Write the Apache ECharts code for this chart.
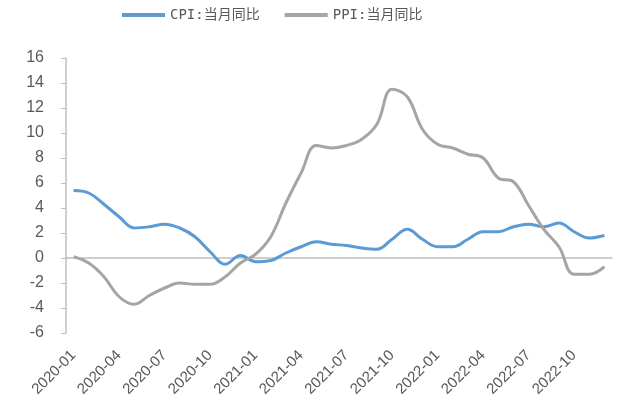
<!DOCTYPE html>
<html>
<head>
<meta charset="utf-8">
<script src="https://cdn.jsdelivr.net/npm/echarts@6/dist/echarts.min.js"></script>
<style>
  html, body { margin: 0; padding: 0; background: #fff; }
  #chart { width: 634px; height: 403px; }
</style>
</head>
<body>
<div id="chart"></div>
<script>
const months = [
  '2020-01', '2020-02', '2020-03', '2020-04', '2020-05', '2020-06', '2020-07', '2020-08', '2020-09', '2020-10', '2020-11', '2020-12',
  '2021-01', '2021-02', '2021-03', '2021-04', '2021-05', '2021-06', '2021-07', '2021-08', '2021-09', '2021-10', '2021-11', '2021-12',
  '2022-01', '2022-02', '2022-03', '2022-04', '2022-05', '2022-06', '2022-07', '2022-08', '2022-09', '2022-10', '2022-11', '2022-12'
];
const cpi = [
  5.4, 5.2, 4.3, 3.3, 2.4, 2.5, 2.7, 2.4, 1.7, 0.5, -0.5, 0.2,
  -0.3, -0.2, 0.4, 0.9, 1.3, 1.1, 1.0, 0.8, 0.7, 1.5, 2.3, 1.5,
  0.9, 0.9, 1.5, 2.1, 2.1, 2.5, 2.7, 2.5, 2.8, 2.1, 1.6, 1.8
];
const ppi = [
  0.1, -0.4, -1.5, -3.1, -3.7, -3.0, -2.4, -2.0, -2.1, -2.1, -1.5, -0.4,
  0.3, 1.7, 4.4, 6.8, 9.0, 8.8, 9.0, 9.5, 10.7, 13.5, 12.9, 10.3,
  9.1, 8.8, 8.3, 8.0, 6.4, 6.1, 4.2, 2.3, 0.9, -1.3, -1.3, -0.7
];
const seriesNames = ['CPI:当月同比', 'PPI:当月同比'];

const chart = echarts.init(document.getElementById('chart'));
const axisGray = '#BFBFBF';
const textGray = '#595959';

chart.setOption({
  animation: false,
  legend: {
    data: seriesNames,
    left: 117,
    top: 3,
    itemWidth: 43,
    itemHeight: 4,
    itemGap: 25,
    icon: 'rect',
    textStyle: { color: textGray, fontSize: 14, fontFamily: 'DejaVu Sans Mono, Noto Sans CJK SC' }
  },
  grid: { left: 66, right: 22, top: 58, bottom: 70 },
  xAxis: [
    {
      type: 'category',
      data: months,
      axisLine: { onZero: true, lineStyle: { color: axisGray, width: 1.5 } },
      axisTick: { inside: true, length: 5, interval: 2, lineStyle: { color: axisGray } },
      axisLabel: { show: false }
    },
    {
      type: 'category',
      data: months,
      position: 'bottom',
      axisLine: { show: false, onZero: false },
      axisTick: { show: false },
      axisLabel: {
        interval: 2,
        rotate: 45,
        margin: 20,
        color: textGray,
        fontSize: 15,
        fontFamily: 'Liberation Sans'
      }
    }
  ],
  yAxis: {
    type: 'value',
    min: -6,
    max: 16,
    interval: 2,
    axisLine: { show: true, lineStyle: { color: axisGray, width: 1.5 } },
    axisTick: { show: true, length: 5, lineStyle: { color: axisGray } },
    splitLine: { show: false },
    axisLabel: { margin: 22, color: textGray, fontSize: 16, fontFamily: 'Liberation Sans' }
  },
  series: [
    {
      name: seriesNames[0],
      type: 'line',
      data: cpi,
      smooth: 0.4,
      showSymbol: false,
      lineStyle: { color: '#5B9BD5', width: 3 },
      itemStyle: { color: '#5B9BD5' }
    },
    {
      name: seriesNames[1],
      type: 'line',
      data: ppi,
      smooth: 0.4,
      showSymbol: false,
      lineStyle: { color: '#A5A5A5', width: 3 },
      itemStyle: { color: '#A5A5A5' }
    }
  ]
});
</script>
</body>
</html>
